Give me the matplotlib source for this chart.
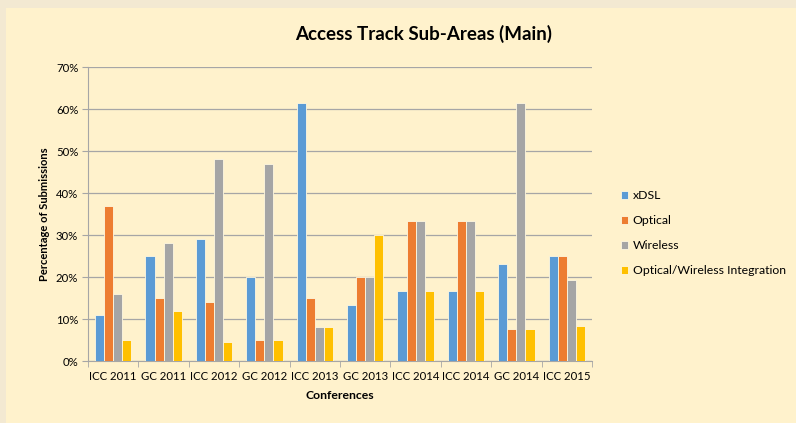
import numpy as np
import matplotlib
matplotlib.use("Agg")
import matplotlib.pyplot as plt
from matplotlib.ticker import FuncFormatter, FixedLocator

conferences = ["ICC 2011", "GC 2011", "ICC 2012", "GC 2012", "ICC 2013",
               "GC 2013", "ICC 2014", "ICC 2014", "GC 2014", "ICC 2015"]
xdsl = [11, 25, 29, 20, 61.5, 13.3, 16.7, 16.7, 23, 25]
optical = [37, 15, 14, 5, 15, 20, 33.3, 33.3, 7.7, 25]
wireless = [16, 28, 48, 47, 8, 20, 33.3, 33.3, 61.5, 19.4]
integration = [5, 12, 4.5, 5, 8, 30, 16.7, 16.7, 7.7, 8.3]

series = [("xDSL", xdsl, "#5B9BD5"),
          ("Optical", optical, "#ED7D31"),
          ("Wireless", wireless, "#A5A5A5"),
          ("Optical/Wireless Integration", integration, "#FFC000")]

plt.rcParams['font.family'] = ['Lato', 'DejaVu Sans']

bg = "#FFF2CC"
fig = plt.figure(figsize=(7.96, 4.23), dpi=100)
fig.patch.set_facecolor("#F3E9D2")
# inner panel
fig.add_artist(plt.Rectangle((6/796, 0), 1, 1 - 8/423, transform=fig.transFigure,
                             facecolor=bg, edgecolor="none", zorder=0))

ax = fig.add_axes([88/796, 62/423, (592-88)/796, (361-67)/423])
ax.set_facecolor(bg)

x = np.arange(len(conferences))
w = 0.18
for i, (name, vals, col) in enumerate(series):
    ax.bar(x + (i - 1.5) * w, vals, width=w, color=col, label=name,
           edgecolor="#FFF8E0", linewidth=0.6, zorder=3)

ax.set_xlim(-0.5, len(conferences) - 0.5)
ax.set_ylim(0, 70)
ax.set_yticks(np.arange(0, 71, 10))
ax.yaxis.set_major_formatter(FuncFormatter(lambda v, p: f"{int(v)}%"))
ax.grid(axis="y", color="#A6A6A6", linewidth=0.9, zorder=0)
ax.set_xticks(x)
ax.set_xticklabels(conferences, fontsize=8.2)
ax.tick_params(axis="x", length=0, pad=7)
ax.xaxis.set_minor_locator(FixedLocator(np.arange(-0.5, len(conferences), 1)))
ax.tick_params(axis="x", which="minor", length=4, color="#A6A6A6")
ax.tick_params(axis="y", length=4, color="#A6A6A6", labelsize=8.2, pad=3)
for s in ["top", "right"]:
    ax.spines[s].set_visible(False)
for s in ["left", "bottom"]:
    ax.spines[s].set_color("#A6A6A6")

ax.set_xlabel("Conferences", fontsize=8.8, fontweight="bold", labelpad=6)
ax.set_ylabel("Percentage of Submissions", fontsize=8, fontweight="bold", labelpad=4)

fig.text(0.532, 0.92, "Access Track Sub-Areas (Main)", ha="center", va="center",
         fontsize=13.5, fontweight="bold")

ax.legend(loc="center left", bbox_to_anchor=(1.035, 0.435), frameon=False,
          fontsize=8.8, handlelength=0.6, handleheight=0.6, labelspacing=1.15,
          handletextpad=0.4)

fig.savefig("out.png", dpi=100, facecolor=fig.get_facecolor())
